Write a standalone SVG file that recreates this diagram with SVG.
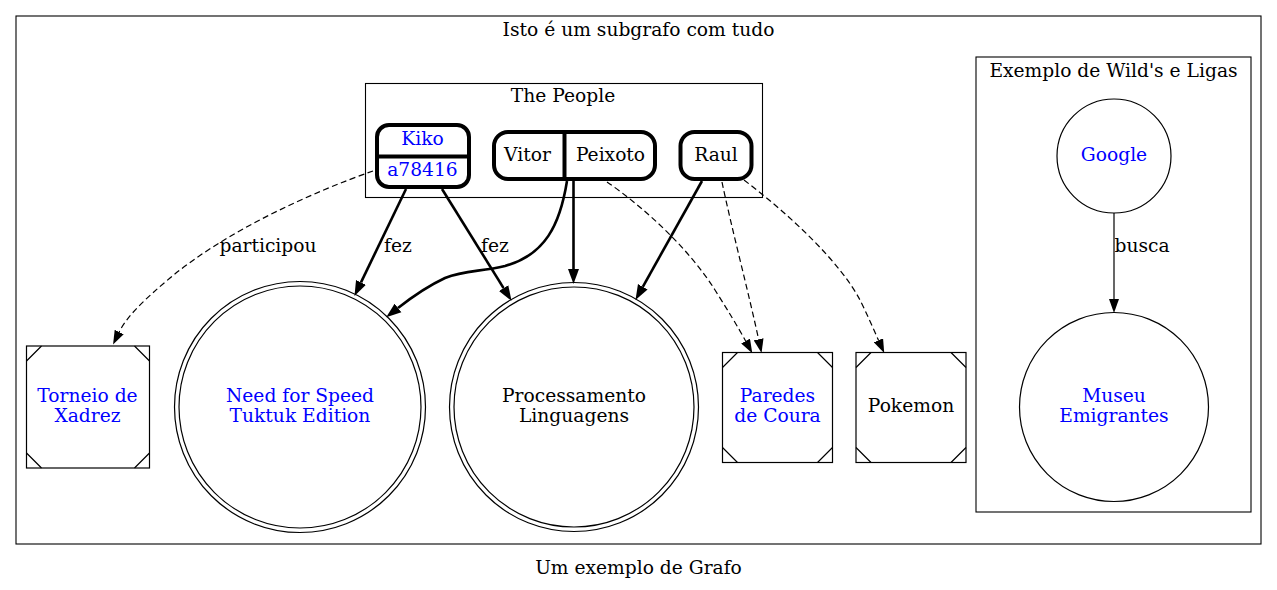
<svg xmlns="http://www.w3.org/2000/svg" width="1277" height="590" viewBox="0 0 1277 590">
<style>
text{font-family:"DejaVu Serif","Liberation Serif",serif;font-size:18.67px;text-anchor:middle;fill:#000}
.blue{fill:#0000ff}
.cl{fill:none;stroke:#000;stroke-width:1.1}
.rec{fill:none;stroke:#000;stroke-width:4}
.sh{fill:none;stroke:#000;stroke-width:1.2}
.e{fill:none;stroke:#000;stroke-width:1.2}
.eb{fill:none;stroke:#000;stroke-width:2.6}
.d{stroke-dasharray:6,3.5}
</style>
<defs>
<marker id="ah" markerUnits="userSpaceOnUse" markerWidth="14" markerHeight="10" viewBox="0 0 14 10" refX="0" refY="5" orient="auto"><path d="M0,0 L14,5 L0,10 z" fill="#000"/></marker>
<marker id="ahb" markerUnits="userSpaceOnUse" markerWidth="15" markerHeight="12" viewBox="0 0 15 12" refX="0" refY="6" orient="auto"><path d="M0,0.5 L15,6 L0,11.5 z" fill="#000"/></marker>
</defs>
<rect width="1277" height="590" fill="#fff"/>
<g id="graph-label"><text x="638.5" y="574">Um exemplo de Grafo</text></g>
<g id="cluster-outer">
<rect class="cl" x="16" y="16" width="1245" height="528"/>
<text x="638.5" y="36">Isto é um subgrafo com tudo</text>
</g>
<g id="cluster-people">
<rect class="cl" x="365.5" y="83.5" width="397" height="114"/>
<text x="563" y="102">The People</text>
</g>
<g id="cluster-wild">
<rect class="cl" x="976" y="57" width="275" height="455"/>
<text x="1113.5" y="77">Exemplo de Wild's e Ligas</text>
</g>
<g id="connectors">
<path class="e d" d="M373,171 C310,193 225,232 170,278 C145,299 127,316 119.2,332" marker-end="url(#ah)"/>
<path class="eb" d="M406,189 L361,282.4" marker-end="url(#ahb)"/>
<path class="eb" d="M442,189 L503.6,288.1" marker-end="url(#ahb)"/>
<path class="eb" d="M567,181 C560,225 545,255 505,266 C480,272 465,270 445,278 C430,285 412,297 398,308" marker-end="url(#ahb)"/>
<path class="eb" d="M573.5,181 L573.5,269" marker-end="url(#ahb)"/>
<path class="eb" d="M702,181 L642.8,286.8" marker-end="url(#ahb)"/>
<path class="e d" d="M607,182 C645,208 690,250 715,290 C727,309 738,327 745.6,341" marker-end="url(#ah)"/>
<path class="e d" d="M722,182 C732,230 748,290 758.6,339.3" marker-end="url(#ah)"/>
<path class="e d" d="M744,180 C790,215 840,262 860,300 C867,314 873,328 878.5,340.3" marker-end="url(#ah)"/>
<path class="e" d="M1114,213 L1114,299" marker-end="url(#ah)"/>
<text x="268" y="252">participou</text>
<text x="398" y="252">fez</text>
<text x="495" y="252">fez</text>
<text x="1142" y="252">busca</text>
</g>
<g id="node-kiko">
<rect class="rec" x="377" y="125" width="92" height="62" rx="12"/>
<line class="rec" x1="377" y1="156.5" x2="469" y2="156.5"/>
<text class="blue" x="422.5" y="145">Kiko</text>
<text class="blue" x="422.5" y="175.5">a78416</text>
</g>
<g id="node-vitor">
<rect class="rec" x="494" y="132" width="161" height="47" rx="14"/>
<line class="rec" x1="564.5" y1="132" x2="564.5" y2="179"/>
<text x="527.5" y="161">Vitor</text>
<text x="610.5" y="161">Peixoto</text>
</g>
<g id="node-raul">
<rect class="rec" x="680.5" y="132" width="71" height="47" rx="14"/>
<text x="716" y="161">Raul</text>
</g>
<g id="node-torneio">
<rect class="sh" x="26.5" y="346" width="123" height="122"/>
<path class="sh" d="M26.5,361 L41.5,346 M134.5,346 L149.5,361 M26.5,453 L41.5,468 M134.5,468 L149.5,453"/>
<text class="blue" x="87.5" y="402">Torneio de</text>
<text class="blue" x="87.5" y="422">Xadrez</text>
</g>
<g id="node-nfs">
<circle class="sh" cx="300" cy="407" r="125.5"/>
<circle class="sh" cx="300" cy="407" r="121"/>
<text class="blue" x="300" y="402">Need for Speed</text>
<text class="blue" x="300" y="422">Tuktuk Edition</text>
</g>
<g id="node-proc">
<circle class="sh" cx="574" cy="407" r="124.5"/>
<circle class="sh" cx="574" cy="407" r="120"/>
<text x="574" y="402">Processamento</text>
<text x="574" y="422">Linguagens</text>
</g>
<g id="node-paredes">
<rect class="sh" x="722.5" y="352.5" width="110" height="110"/>
<path class="sh" d="M722.5,367.5 L737.5,352.5 M817.5,352.5 L832.5,367.5 M722.5,447.5 L737.5,462.5 M817.5,462.5 L832.5,447.5"/>
<text class="blue" x="777.5" y="402">Paredes</text>
<text class="blue" x="777.5" y="422">de Coura</text>
</g>
<g id="node-pokemon">
<rect class="sh" x="856" y="352.5" width="110" height="110"/>
<path class="sh" d="M856,367.5 L871,352.5 M951,352.5 L966,367.5 M856,447.5 L871,462.5 M951,462.5 L966,447.5"/>
<text x="911" y="412">Pokemon</text>
</g>
<g id="node-google">
<circle class="sh" cx="1114" cy="156" r="57"/>
<text class="blue" x="1114" y="161">Google</text>
</g>
<g id="node-museu">
<circle class="sh" cx="1114" cy="407" r="94.5"/>
<text class="blue" x="1114" y="402">Museu</text>
<text class="blue" x="1114" y="422">Emigrantes</text>
</g>
</svg>
